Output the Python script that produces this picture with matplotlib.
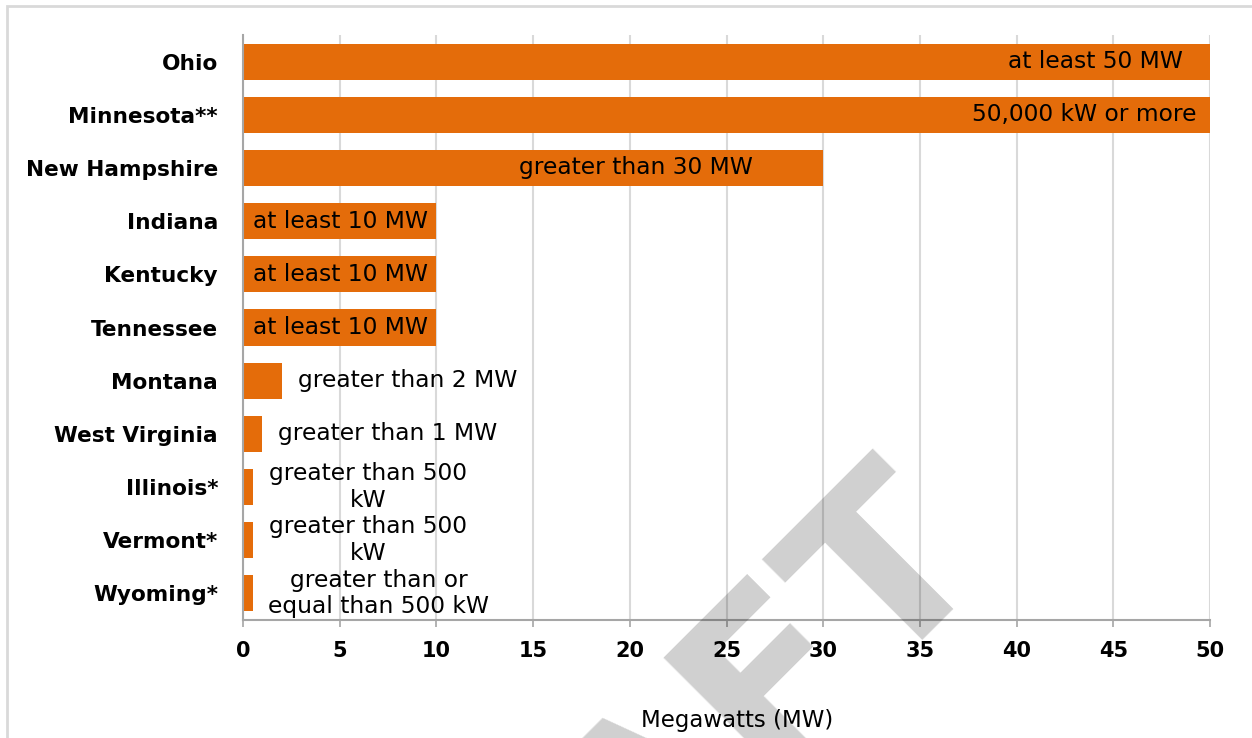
import numpy as np
import matplotlib
matplotlib.use("Agg")
import matplotlib.pyplot as plt
from matplotlib.patches import Rectangle

# Size thresholds by state, in megawatts
states = ["Ohio", "Minnesota**", "New Hampshire", "Indiana", "Kentucky",
          "Tennessee", "Montana", "West Virginia", "Illinois*", "Vermont*",
          "Wyoming*"]
threshold_mw = [50, 50, 30, 10, 10, 10, 2, 1, 0.5, 0.5, 0.5]
threshold_text = ["at least 50 MW", "50,000 kW or more", "greater than 30 MW",
                  "at least 10 MW", "at least 10 MW", "at least 10 MW",
                  "greater than 2 MW", "greater than 1 MW",
                  "greater than 500\nkW", "greater than 500\nkW",
                  "greater than or\nequal than 500 kW"]
x_ticks = [0, 5, 10, 15, 20, 25, 30, 35, 40, 45, 50]

# label placement relative to the bar end: (alignment, shift in MW)
label_place = [("right", -1.4), ("right", -0.7), ("center", -9.7),
               ("center", -4.95), ("center", -4.95), ("center", -4.95),
               ("left", 0.84), ("left", 0.81),
               ("center", 5.96), ("center", 5.96), ("center", 6.53)]

BAR = "#E46C0A"
GRID = "#d9d9d9"
AXIS = "#a6a6a6"

plt.rcParams["font.family"] = ["DejaVu Sans"]

fig = plt.figure(figsize=(12.52, 7.38), dpi=100)
ax = fig.add_axes([243 / 1252, 1 - 620 / 738, 967 / 1252, 585 / 738])

y = np.arange(len(states))
ax.barh(y, threshold_mw, height=0.68, color=BAR, zorder=3)

for yi, val, txt, (ha, dx) in zip(y, threshold_mw, threshold_text, label_place):
    ax.text(val + dx, yi, txt, ha=ha, va="center", fontsize=16.8,
            color="black", zorder=4, linespacing=1.2)

ax.set_ylim(len(states) - 0.5, -0.5)
ax.set_xlim(0, 50)
ax.set_xticks(x_ticks)
ax.set_xticklabels([str(t) for t in x_ticks], fontsize=15, fontweight="bold")
ax.set_yticks(y)
ax.set_yticklabels(states, fontsize=15.6, fontweight="bold")

ax.xaxis.grid(True, color=GRID, linewidth=1.5, zorder=0)
ax.set_axisbelow(True)
ax.tick_params(axis="x", direction="out", length=5, width=1.2, color=AXIS, pad=10)
ax.tick_params(axis="y", length=0, pad=18)

for side in ("top", "right"):
    ax.spines[side].set_visible(False)
for side in ("left", "bottom"):
    ax.spines[side].set_color(AXIS)
    ax.spines[side].set_linewidth(1.5)
    ax.spines[side].set_zorder(5)

ax.set_xlabel("Megawatts (MW)", fontsize=16.5)
ax.xaxis.set_label_coords((737 - 243) / 967, -0.152)

# outer frame of the chart area
fig.patches.append(Rectangle((7 / 1252, -0.2), 1.2, 1.2 - 6 / 738,
                             transform=fig.transFigure, fill=False,
                             edgecolor=GRID, linewidth=2))

# watermark
fig.text(680 / 1252, 1 - 860 / 738, "DRAFT", rotation=45, rotation_mode="anchor",
         ha="center", va="baseline", fontsize=168, fontweight="bold",
         color="black", alpha=0.19, zorder=10)

fig.savefig("out.png", dpi=100)
